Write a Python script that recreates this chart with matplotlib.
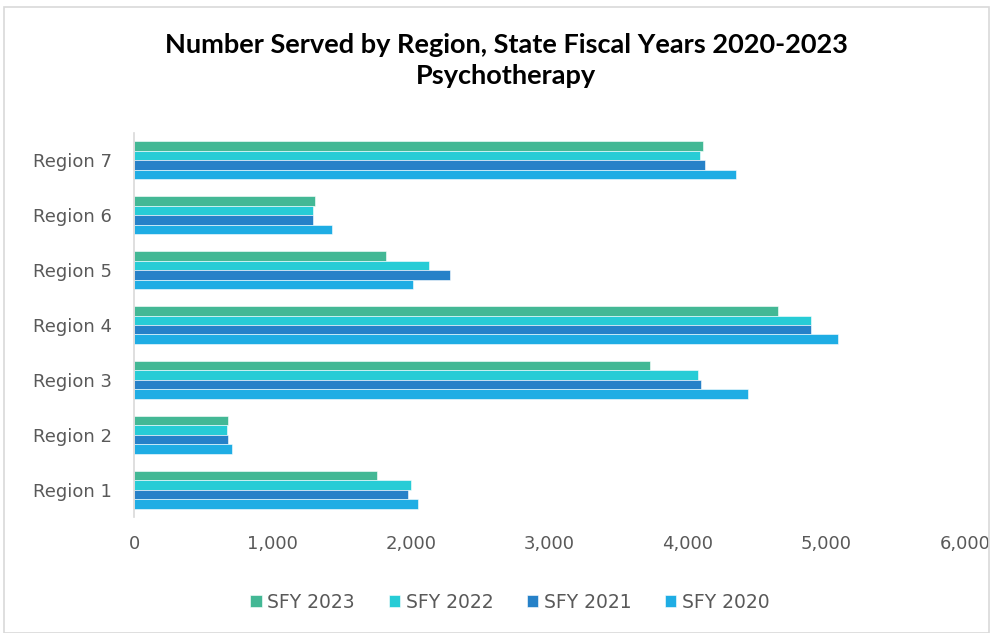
import matplotlib
matplotlib.use("Agg")
import matplotlib.pyplot as plt
import numpy as np
from matplotlib.patches import Rectangle

regions = ["Region 1", "Region 2", "Region 3", "Region 4", "Region 5", "Region 6", "Region 7"]
series_names = ["SFY 2023", "SFY 2022", "SFY 2021", "SFY 2020"]
sfy2023 = [1758, 679, 3724, 4653, 1822, 1305, 4107]
sfy2022 = [1998, 672, 4074, 4890, 2131, 1292, 4088]
sfy2021 = [1975, 679, 4097, 4890, 2285, 1292, 4123]
sfy2020 = [2048, 705, 4434, 5083, 2018, 1428, 4347]
colors = ["#43B895", "#27CCD6", "#2681C8", "#1FADE4"]
xticks = [0, 1000, 2000, 3000, 4000, 5000, 6000]

plt.rcParams['font.family'] = ['DejaVu Sans']

fig = plt.figure(figsize=(9.93, 6.33), dpi=100)
ax = fig.add_axes([134/993, 1-517/633, (965-134)/993, (517-133)/633])

y = np.arange(len(regions))
bh = 0.173
data = [sfy2023, sfy2022, sfy2021, sfy2020]
offsets = [1.5, 0.5, -0.5, -1.5]
handles = []
for vals, c, off, name in zip(data, colors, offsets, series_names):
    h = ax.barh(y + off * bh, vals, height=bh, color=c, edgecolor='white', linewidth=0.4, label=name)
    handles.append(h)

ax.set_xlim(0, 6000)
ax.set_ylim(-0.5, len(regions) - 0.5)
ax.set_yticks(y)
ax.set_yticklabels(regions)
ax.set_xticks(xticks)
ax.set_xticklabels([f"{v:,}" for v in xticks])
ax.tick_params(axis='both', length=0, labelsize=13, labelcolor='#595959')
ax.tick_params(axis='x', pad=13)
ax.tick_params(axis='y', pad=16)
for s in ['top', 'right', 'bottom']:
    ax.spines[s].set_visible(False)
ax.spines['left'].set_color('#D9D9D9')
ax.spines['left'].set_linewidth(1.2)

title_font = ['Lato', 'DejaVu Sans']
fig.text(506/993, 1-45/633, "Number Served by Region, State Fiscal Years 2020-2023",
         ha='center', va='center', fontsize=19.5, fontweight='bold', color='black', family=title_font)
fig.text(506/993, 1-76/633, "Psychotherapy",
         ha='center', va='center', fontsize=19.5, fontweight='bold', color='black', family=title_font)

fig.legend(handles=handles, labels=series_names, loc='center', bbox_to_anchor=(510/993, 1-602/633),
           ncol=4, frameon=False, fontsize=13.5, labelcolor='#595959',
           handlelength=0.6, handleheight=0.6, handletextpad=0.3, columnspacing=1.8)

fig.patches.append(Rectangle((4/993, 0), 1 - 8/993, 1 - 7/633, transform=fig.transFigure,
                             fill=False, edgecolor='#D9D9D9', linewidth=1.2))

fig.savefig("out.png", dpi=100)
